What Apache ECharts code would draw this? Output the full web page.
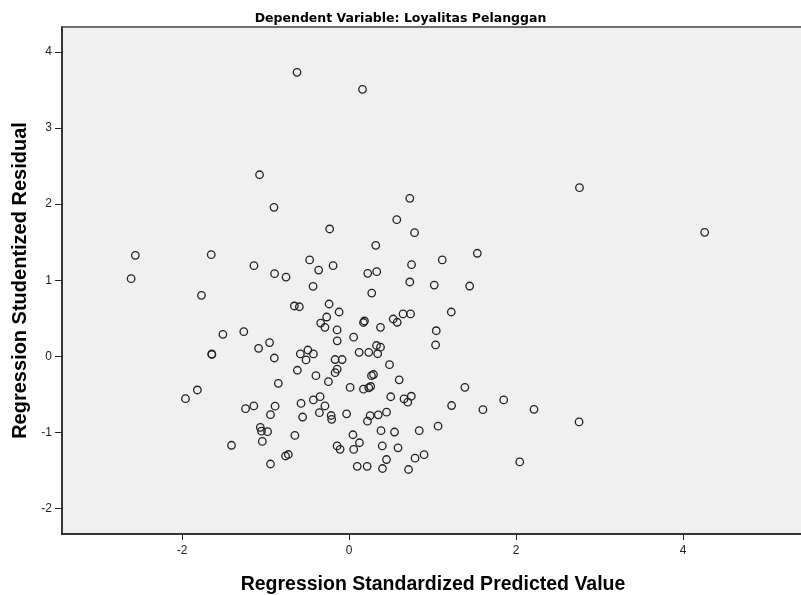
<!DOCTYPE html>
<html>
<head>
<meta charset="utf-8">
<script src="https://cdn.jsdelivr.net/npm/echarts@6/dist/echarts.min.js"></script>
<style>
html,body{margin:0;padding:0;background:#ffffff;}
#chart{width:801px;height:595px;}
</style>
</head>
<body>
<div id="chart"></div>
<script>
// Regression Standardized Predicted Value (x)
const predicted = [
-0.624,0.160,-1.073,-0.900,0.727,0.571,-0.233,0.784,0.319,-2.561,
-1.652,-1.140,-0.473,-0.365,-0.192,-0.893,-0.756,0.223,0.331,0.748,
1.116,-2.612,-0.432,0.727,1.020,0.271,-1.769,2.760,4.260,1.536,
1.444,-0.656,-0.596,-0.240,-0.120,-0.269,-0.341,-0.290,-0.144,0.184,
0.172,0.376,0.528,0.576,0.646,0.736,1.224,1.044,1.036,-1.512,
-1.262,-0.953,-1.085,-0.896,-1.646,-1.644,-0.584,-0.494,-0.428,-0.516,
-0.143,0.054,0.120,0.235,0.328,0.376,0.342,-0.168,-0.084,-0.143,
-0.168,0.484,-0.620,-0.398,0.292,0.268,0.600,-0.248,-0.848,0.012,
0.172,0.258,0.235,1.387,-1.818,-1.961,0.499,0.658,0.703,0.745,
-0.348,-0.428,-0.576,-0.290,-1.241,-1.142,-0.887,-0.942,-0.557,-0.356,
-0.215,-0.209,-0.030,0.252,0.220,0.349,0.448,1.228,1.852,1.603,
2.215,2.755,2.044,-1.064,-1.050,-0.977,1.066,0.840,0.382,0.544,
-0.650,0.046,0.124,0.055,-1.040,-1.409,-0.144,-0.108,0.397,0.586,
0.448,0.790,0.898,-0.762,-0.728,-0.942,0.097,0.216,0.400,0.712
];
// Regression Studentized Residual (y)
const residual = [
3.730,3.507,2.385,1.957,2.076,1.795,1.673,1.624,1.459,1.327,
1.335,1.191,1.266,1.134,1.191,1.086,1.042,1.091,1.112,1.204,
1.266,1.020,0.920,0.977,0.937,0.832,0.802,2.215,1.629,1.354,
0.924,0.662,0.652,0.688,0.583,0.517,0.438,0.382,0.347,0.465,
0.445,0.382,0.491,0.448,0.557,0.557,0.583,0.337,0.150,0.290,
0.324,0.182,0.106,-0.021,0.032,0.025,0.032,0.084,0.032,-0.047,
0.205,0.252,0.054,0.054,0.143,0.121,0.035,-0.041,-0.041,-0.168,
-0.214,-0.109,-0.182,-0.253,-0.238,-0.253,-0.307,-0.332,-0.353,-0.408,
-0.431,-0.395,-0.412,-0.406,-0.441,-0.555,-0.530,-0.559,-0.601,-0.523,
-0.529,-0.572,-0.618,-0.651,-0.687,-0.651,-0.654,-0.765,-0.796,-0.739,
-0.776,-0.826,-0.754,-0.779,-0.851,-0.767,-0.733,-0.645,-0.572,-0.700,
-0.695,-0.861,-1.386,-0.931,-0.982,-0.989,-0.916,-0.975,-0.975,-0.993,
-1.038,-1.029,-1.134,-1.222,-1.117,-1.167,-1.176,-1.220,-1.176,-1.200,
-1.354,-1.337,-1.291,-1.308,-1.288,-1.413,-1.443,-1.443,-1.472,-1.485
];
const xTicks = [-2, 0, 2, 4];
const yTicks = [-2, -1, 0, 1, 2, 3, 4];
const titleText = 'Dependent Variable: Loyalitas Pelanggan';
const xName = 'Regression Standardized Predicted Value';
const yName = 'Regression Studentized Residual';

const points = predicted.map((x, i) => [x, residual[i]]);

const chart = echarts.init(document.getElementById('chart'), null, {renderer: 'canvas'});
const fontFam = '"Liberation Sans", Arial, sans-serif';
chart.setOption({
  animation: false,
  backgroundColor: '#ffffff',
  title: {
    text: titleText,
    left: 'center',
    top: 7,
    textStyle: {fontFamily: '"DejaVu Sans", sans-serif', fontSize: 12.5, fontWeight: 'bold', color: '#000'}
  },
  grid: {
    left: 62, right: -3, top: 27, bottom: 61,
    containLabel: false,
    outerBoundsMode: 'none',
    show: true,
    backgroundColor: '#F0F0F0',
    borderColor: '#707070',
    borderWidth: 2
  },
  xAxis: {
    type: 'value',
    min: -3.44, max: 5.45,
    name: xName,
    nameLocation: 'middle',
    nameGap: 41,
    nameTextStyle: {fontFamily: fontFam, fontSize: 19.5, fontWeight: 'bold', color: '#000'},
    axisLine: {show: true, onZero: false, lineStyle: {color: '#222', width: 1.5}},
    axisTick: {show: true, length: 6, customValues: xTicks, lineStyle: {color: '#222'}},
    axisLabel: {customValues: xTicks, margin: 11, fontFamily: fontFam, fontSize: 12, color: '#222'},
    splitLine: {show: false}
  },
  yAxis: {
    type: 'value',
    min: -2.332, max: 4.325,
    name: yName,
    nameLocation: 'middle',
    nameGap: 21,
    nameTextStyle: {fontFamily: fontFam, fontSize: 20, fontWeight: 'bold', color: '#000'},
    axisLine: {show: true, onZero: false, lineStyle: {color: '#222', width: 1.5}},
    axisTick: {show: true, length: 7, customValues: yTicks, lineStyle: {color: '#222'}},
    axisLabel: {customValues: yTicks, margin: 10, fontFamily: fontFam, fontSize: 12, color: '#222'},
    splitLine: {show: false}
  },
  series: [{
    type: 'scatter',
    data: points,
    symbol: 'circle',
    symbolSize: 7.5,
    itemStyle: {color: 'rgba(0,0,0,0)', borderColor: '#222', borderWidth: 1.3, opacity: 1}
  }]
});
</script>
</body>
</html>
